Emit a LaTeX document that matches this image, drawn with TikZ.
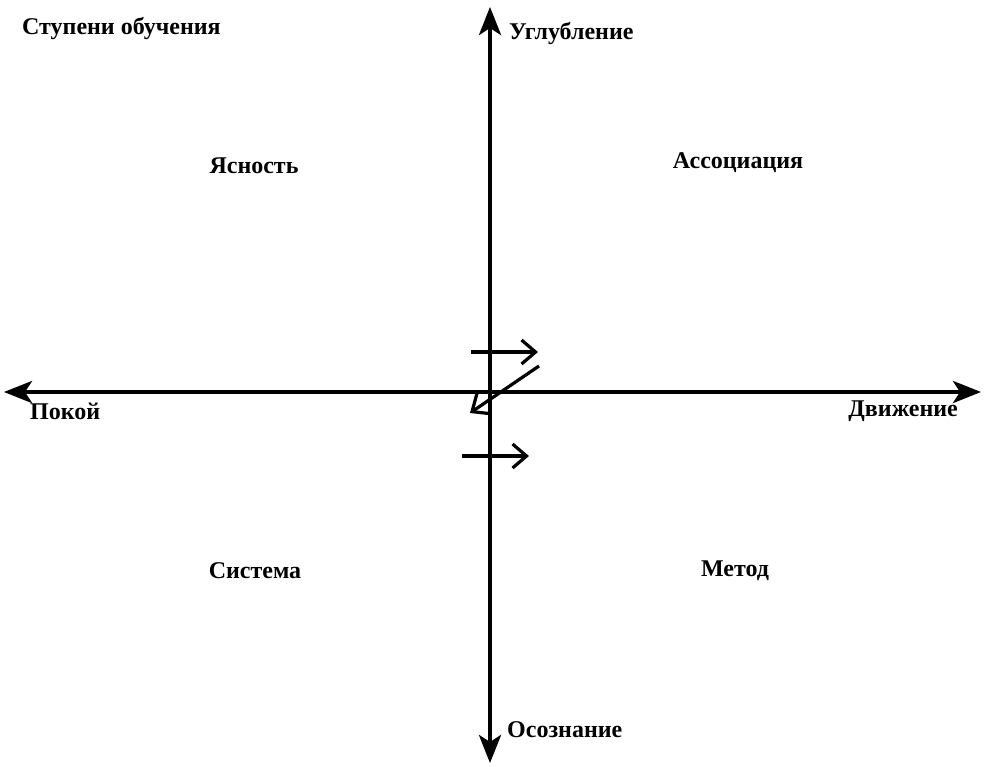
\documentclass[tikz,border=0pt]{standalone}
\usepackage{fontspec}
\setmainfont{Liberation Serif}
\usetikzlibrary{arrows.meta}
\begin{document}
\begin{tikzpicture}[x=1pt,y=-1pt,
  lbl/.style={font=\bfseries\fontsize{24}{26}\selectfont, inner sep=0pt},
  axis/.style={line width=4.2pt, -{Stealth[length=28pt,width=22pt,inset=7pt]}},
  small/.style={line width=3.2pt, -{Straight Barb[length=14pt,width=24pt]}}]
\useasboundingbox (0,0) rectangle (984,766);
\coordinate (vtop) at (490,7);
\coordinate (vbot) at (490,763);
\coordinate (hl) at (4,392);
\coordinate (hr) at (981,392);
\coordinate (c) at (490,392);
\draw[axis] (c) -- (vtop);
\draw[axis] (c) -- (vbot);
\draw[axis] (c) -- (hl);
\draw[axis] (c) -- (hr);
\coordinate (a1s) at (471,352);
\coordinate (a1e) at (538,352);
\coordinate (a2s) at (539,366);
\coordinate (a2e) at (470,413);
\coordinate (a3s) at (462,456);
\coordinate (a3e) at (529,456);
\draw[small] (a1s) -- (a1e);
\draw[small] (a2s) -- (a2e);
\draw[small] (a3s) -- (a3e);
\node[lbl, anchor=west] (title) at (22,28) {Ступени обучения};
\node[lbl, anchor=west] (up) at (509,33) {Углубление};
\node[lbl] (q1) at (254,166) {Ясность};
\node[lbl] (q2) at (738,163) {Ассоциация};
\node[lbl, anchor=west] (left) at (30,411) {Покой};
\node[lbl, anchor=east] (right) at (958,411) {Движение};
\node[lbl] (q3) at (255,571) {Система};
\node[lbl] (q4) at (735,571) {Метод};
\node[lbl, anchor=west] (down) at (507,730) {Осознание};
\end{tikzpicture}
\end{document}
